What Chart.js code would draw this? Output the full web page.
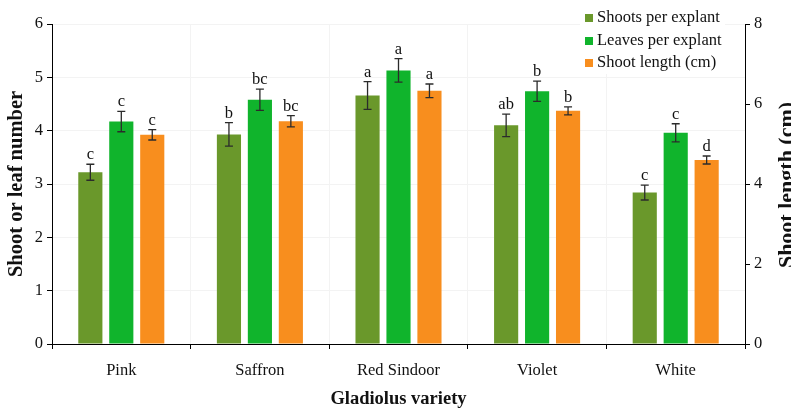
<!DOCTYPE html>
<html>
<head>
<meta charset="utf-8">
<script src="https://cdn.jsdelivr.net/npm/chart.js@4.4.1/dist/chart.umd.min.js"></script>
<style>
  html, body { margin: 0; padding: 0; background: #fff; }
  #wrap { width: 791px; height: 408px; }
</style>
</head>
<body>
<div id="wrap"><canvas id="chart"></canvas></div>
<script>
const categories = ['Pink', 'Saffron', 'Red Sindoor', 'Violet', 'White'];

const shoots = [3.22, 3.93, 4.66, 4.10, 2.84];
const shootsErr = [0.15, 0.22, 0.26, 0.21, 0.14];
const shootsLetters = ['c', 'b', 'a', 'ab', 'c'];

const leaves = [4.17, 4.58, 5.13, 4.74, 3.96];
const leavesErr = [0.19, 0.20, 0.22, 0.19, 0.17];
const leavesLetters = ['c', 'bc', 'a', 'b', 'c'];

const shootLength = [5.23, 5.57, 6.33, 5.83, 4.60];
const shootLengthErr = [0.13, 0.14, 0.17, 0.10, 0.10];
const shootLengthLetters = ['c', 'bc', 'a', 'b', 'd'];

const leftTicks = [0, 1, 2, 3, 4, 5, 6];
const rightTicks = [0, 2, 4, 6, 8];

const serif = '"Liberation Serif", "Times New Roman", serif';

// error bars + significance letters
const errorBarPlugin = {
    id: 'errorBars',
    afterDatasetsDraw(chart) {
        const ctx = chart.ctx;
        ctx.save();
        chart.data.datasets.forEach((ds, di) => {
            const meta = chart.getDatasetMeta(di);
            const scale = chart.scales[ds.yAxisID];
            meta.data.forEach((bar, i) => {
                const v = ds.data[i];
                const e = ds.errors[i];
                const yTop = scale.getPixelForValue(v + e);
                const yBot = scale.getPixelForValue(v - e);
                ctx.strokeStyle = '#2b2b2b';
                ctx.lineWidth = 1.3;
                ctx.beginPath();
                ctx.moveTo(bar.x, yTop);
                ctx.lineTo(bar.x, yBot);
                ctx.moveTo(bar.x - 4, yTop);
                ctx.lineTo(bar.x + 4, yTop);
                ctx.moveTo(bar.x - 4, yBot);
                ctx.lineTo(bar.x + 4, yBot);
                ctx.stroke();
                ctx.fillStyle = '#111';
                ctx.font = '16.5px ' + serif;
                ctx.textAlign = 'center';
                ctx.textBaseline = 'alphabetic';
                ctx.fillText(ds.letters[i], bar.x, yTop - 5);
            });
        });
        ctx.restore();
    }
};

// legend in the top-right corner and the right axis title
const extrasPlugin = {
    id: 'extras',
    afterDraw(chart) {
        const ctx = chart.ctx;
        ctx.save();
        ctx.fillStyle = '#fff';
        ctx.fillRect(580, 4, 145, 70);
        const rows = [18, 41, 63];
        ctx.font = '16.5px ' + serif;
        ctx.textAlign = 'left';
        ctx.textBaseline = 'middle';
        chart.data.datasets.forEach((ds, i) => {
            ctx.fillStyle = ds.backgroundColor;
            ctx.fillRect(585, rows[i] - 4, 8, 8);
            ctx.fillStyle = '#111';
            ctx.fillText(ds.label, 597, rows[i]);
        });

        ctx.translate(787, 185);
        ctx.rotate(-Math.PI / 2);
        ctx.font = 'bold 22px ' + serif;
        ctx.textAlign = 'center';
        ctx.textBaseline = 'middle';
        ctx.fillStyle = '#111';
        ctx.fillText('Shoot length (cm)', 0, 0);
        ctx.restore();
    }
};

new Chart(document.getElementById('chart'), {
    type: 'bar',
    data: {
        labels: categories,
        datasets: [
            {
                label: 'Shoots per explant',
                data: shoots,
                errors: shootsErr,
                letters: shootsLetters,
                yAxisID: 'y',
                backgroundColor: '#6a982b'
            },
            {
                label: 'Leaves per explant',
                data: leaves,
                errors: leavesErr,
                letters: leavesLetters,
                yAxisID: 'y',
                backgroundColor: '#10b42c'
            },
            {
                label: 'Shoot length (cm)',
                data: shootLength,
                errors: shootLengthErr,
                letters: shootLengthLetters,
                yAxisID: 'y1',
                backgroundColor: '#f88e1e'
            }
        ]
    },
    options: {
        responsive: true,
        maintainAspectRatio: false,
        animation: false,
        categoryPercentage: 0.67,
        barPercentage: 0.78,
        layout: { padding: { top: 24, left: 0, right: 0, bottom: 0 } },
        plugins: {
            legend: { display: false },
            tooltip: { enabled: false }
        },
        scales: {
            x: {
                afterFit: s => { s.height = 64; },
                grid: {
                    color: '#f3f3f3',
                    tickColor: '#000',
                    tickLength: 5,
                    offset: true
                },
                border: { color: '#000', width: 1 },
                ticks: {
                    color: '#111',
                    padding: 12,
                    font: { family: serif, size: 16.5 }
                },
                title: {
                    display: true,
                    text: 'Gladiolus variety',
                    color: '#111',
                    padding: 0,
                    font: { family: serif, size: 18.5, weight: 'bold', lineHeight: 1 }
                }
            },
            y: {
                position: 'left',
                min: 0,
                max: 6,
                afterFit: s => { s.width = 52; },
                afterBuildTicks: s => { s.ticks = leftTicks.map(v => ({ value: v })); },
                grid: {
                    color: '#f3f3f3',
                    tickColor: '#000',
                    tickLength: 5
                },
                border: { color: '#000', width: 1 },
                ticks: {
                    color: '#111',
                    padding: 4,
                    font: { family: serif, size: 16.5 }
                },
                title: {
                    display: true,
                    text: 'Shoot or leaf number',
                    color: '#111',
                    padding: { top: 4, bottom: 0 },
                    font: { family: serif, size: 20.5, weight: 'bold' }
                }
            },
            y1: {
                position: 'right',
                min: 0,
                max: 8,
                afterFit: s => { s.width = 46; },
                afterBuildTicks: s => { s.ticks = rightTicks.map(v => ({ value: v })); },
                grid: {
                    drawOnChartArea: false,
                    tickColor: '#000',
                    tickLength: 5
                },
                border: { color: '#000', width: 1 },
                ticks: {
                    color: '#111',
                    padding: 4,
                    font: { family: serif, size: 16.5 }
                }
            }
        }
    },
    plugins: [errorBarPlugin, extrasPlugin]
});
</script>
</body>
</html>
